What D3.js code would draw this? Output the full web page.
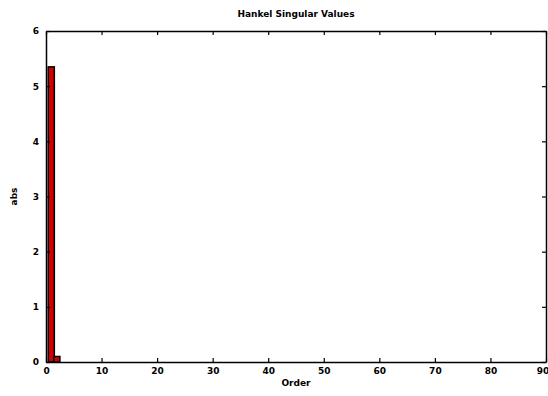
<!DOCTYPE html>
<html>
<head>
<meta charset="utf-8">
<script src="https://cdn.jsdelivr.net/npm/d3@7"></script>
<style>
  body { margin: 0; background: #fff; }
  svg text { font-family: "DejaVu Sans", sans-serif; font-weight: bold; fill: #000; }
</style>
</head>
<body>
<svg id="chart" width="548" height="396"></svg>
<script>
// Hankel singular values, by order
const orders = [1, 2];
const hsv    = [5.35, 0.1];
const xTicks = [0, 10, 20, 30, 40, 50, 60, 70, 80, 90];
const yTicks = [0, 1, 2, 3, 4, 5, 6];

const svg = d3.select("#chart");
const margin = { top: 31, right: 2, bottom: 34, left: 46 };
const W = 548 - margin.left - margin.right;
const H = 396 - margin.top - margin.bottom;

const g = svg.append("g").attr("transform", `translate(${margin.left},${margin.top})`);

const x = d3.scaleLinear().domain([0, 90]).range([0, W]);
const y = d3.scaleLinear().domain([0, 6]).range([H, 0]);

// bars
const bw = x(1) - x(0);
g.selectAll("rect.bar").data(orders.map((o, i) => ({ o, v: hsv[i] })))
  .join("rect")
    .attr("class", "bar")
    .attr("x", d => x(d.o) - bw * 0.6)
    .attr("y", d => y(d.v))
    .attr("width", bw * 1.1)
    .attr("height", d => H - y(d.v))
    .attr("fill", "#d00000")
    .attr("stroke", "#000")
    .attr("stroke-width", 1.5);

// axes, ticks inward on all four sides
const fs = "9px";
const fmt = d3.format("d");
const axB = g.append("g").attr("transform", `translate(0,${H})`)
  .call(d3.axisBottom(x).tickValues(xTicks).tickFormat(fmt).tickSizeInner(-4).tickSizeOuter(0).tickPadding(6));
const axL = g.append("g")
  .call(d3.axisLeft(y).tickValues(yTicks).tickFormat(fmt).tickSizeInner(-4).tickSizeOuter(0).tickPadding(7));
const axT = g.append("g")
  .call(d3.axisTop(x).tickValues(xTicks).tickSizeInner(-4).tickSizeOuter(0).tickFormat(""));
const axR = g.append("g").attr("transform", `translate(${W},0)`)
  .call(d3.axisRight(y).tickValues(yTicks).tickSizeInner(-4).tickSizeOuter(0).tickFormat(""));

[axB, axL, axT, axR].forEach(a => {
  a.select(".domain").attr("stroke", "#000").attr("stroke-width", 1.5);
  a.selectAll(".tick line").attr("stroke", "#000").attr("stroke-width", 1.2);
  a.selectAll("text").style("font-size", fs).attr("font-family", null);
});
// last x label sits at the right edge; keep it inside the page
axB.selectAll(".tick text").filter(d => d === 90).attr("text-anchor", "end").attr("dx", "0.3em");

// labels
svg.append("text").attr("x", margin.left + W / 2).attr("y", 17)
  .attr("text-anchor", "middle").style("font-size", "9px")
  .text("Hankel Singular Values");
svg.append("text").attr("x", margin.left + W / 2).attr("y", 386)
  .attr("text-anchor", "middle").style("font-size", "9px")
  .text("Order");
svg.append("text").attr("transform", `translate(17,${margin.top + H / 2}) rotate(-90)`)
  .attr("text-anchor", "middle").style("font-size", "9px")
  .text("abs");
</script>
</body>
</html>
